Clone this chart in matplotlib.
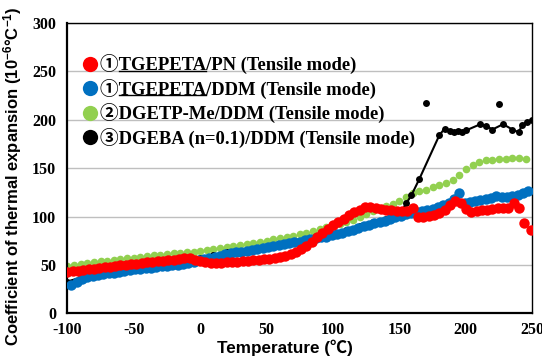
import numpy as np
import matplotlib
matplotlib.use("Agg")
import matplotlib.pyplot as plt
from matplotlib.lines import Line2D
from matplotlib.transforms import IdentityTransform

plt.rcParams['mathtext.fontset'] = 'custom'
plt.rcParams['mathtext.rm'] = 'Liberation Sans:bold'
plt.rcParams['mathtext.bf'] = 'Liberation Sans:bold'
plt.rcParams['mathtext.default'] = 'regular'
plt.rcParams['axes.unicode_minus'] = False

# (1) TGEPETA/PN
temp_pn = [-100, -96, -92, -88, -84, -80, -76, -72, -68, -64, -60, -56, -52, -48, -44, -40, -36, -32, -28, -24,
           -20, -16, -12, -8, -4, 0, 4, 8, 12, 16, 20, 24, 28, 32, 36, 40, 44, 48, 52, 56,
           60, 64, 68, 72, 76, 80, 84, 88, 92, 96, 100, 104, 108, 112, 116, 120, 124, 128, 132, 136,
           140, 144, 148, 152, 156, 160, 164, 168, 172, 176, 180, 184, 188, 192, 196, 200, 204, 208, 212, 216,
           220, 224, 228, 232, 236, 240, 244, 249]
cte_pn = [43, 43.6, 44.3, 45, 45.6, 46.3, 47, 47.6, 48.3, 49, 49.6, 50.3, 51, 51.6, 52.3, 53, 53.6, 54, 54.5, 55,
          55.5, 56, 56.8, 57, 55.5, 54, 53, 52.5, 52.3, 52.5, 53, 53.3, 53.6, 54, 54.5, 55, 55.5, 56, 56.6, 57.3,
          58, 59.5, 61.5, 64, 67, 70, 74, 78.5, 83, 87.5, 91, 94.5, 98, 101.5, 104.5, 107, 109.5, 109.5, 108.5, 108,
          107, 106.5, 106, 105.5, 106, 109, 100, 100, 100.5, 101.5, 103.5, 107, 112, 116, 114, 108, 105, 106, 107, 107,
          107.5, 109, 108.5, 109, 114, 109, 93, 86]

# (1) TGEPETA/DDM
temp_ddm = [-97, -93, -89, -85, -81, -77, -73, -69, -65, -61, -57, -53, -49, -45, -41, -37, -33, -29, -25, -21,
            -17, -13, -9, -5, -1, 3, 7, 11, 15, 19, 23, 27, 31, 35, 39, 43, 47, 51, 55, 59,
            63, 67, 71, 75, 79, 83, 87, 91, 95, 99, 103, 107, 111, 115, 119, 123, 127, 131, 135, 139,
            143, 147, 151, 155, 159, 163, 167, 171, 175, 179, 183, 187, 191, 195, 199, 203, 207, 211, 215, 219,
            223, 227, 231, 235, 239, 243, 247]
cte_ddm = [29, 33, 36, 37.5, 38.5, 39.5, 40.5, 41.3, 42, 43, 44, 45, 45.6, 46.2, 46.8, 47.4, 48, 48.6, 49.2, 49.8,
           50.4, 51, 52, 53.5, 55, 56, 57, 58, 59.5, 61, 62, 63, 64, 65, 66, 67, 67.5, 68.5, 69.5, 70.5,
           71.5, 72.5, 73.5, 74, 75.5, 76.5, 77.5, 78.5, 79.5, 81, 82, 83.5, 85, 86.5, 88, 90, 91.5, 93, 94.5, 96,
           98, 99.5, 101, 103, 104, 105, 106, 107, 108, 110, 112, 114.5, 118, 124, 114, 115, 116.5, 117, 118, 119.5,
           121, 120.5, 120.5, 121, 122.5, 124, 126]

# (2) DGETP-Me/DDM
temp_me = [-100, -95, -90, -85, -80, -75, -70, -65, -60, -55, -50, -45, -40, -35, -30, -25, -20, -15, -10, -5,
           0, 5, 10, 15, 20, 25, 30, 35, 40, 45, 50, 55, 60, 65, 70, 75, 80, 85, 90, 95,
           100, 105, 110, 115, 120, 125, 130, 135, 140, 145, 150, 155, 160, 165, 170, 175, 180, 185, 190, 195,
           200, 205, 210, 215, 220, 225, 230, 235, 240, 245]
cte_me = [49, 50, 51, 52, 53, 54, 54.5, 55, 56, 57, 57.5, 58, 59, 60, 60.5, 61, 62, 62.5, 63, 64,
          65, 66, 67, 68, 69, 70, 71, 72, 73, 74, 75, 76.5, 78, 79, 80.5, 82, 83.5, 85, 87, 89,
          90.5, 92, 94, 97, 100, 103, 106, 109, 111, 113, 116, 120, 124, 126, 128, 131, 133, 135, 138, 143,
          149, 153, 156, 158, 159, 159.5, 160, 161, 161, 160]

# (3) DGEBA (n=0.1)/DDM
temp_ba = [-100, -90, -80, -70, -60, -50, -40, -30, -20, -10, 0, 10, 20, 30, 40, 50, 60, 70, 80, 90,
           100, 110, 120, 130, 140, 150, 155, 159, 165, 180, 184, 188, 191, 194, 197, 200, 211, 215, 220,
           228, 235, 240, 242, 246, 250]
cte_ba = [33, 37, 40, 42, 45, 47, 49, 50.5, 52, 54, 57, 60, 63, 65, 67, 69, 71, 73.5, 76, 79,
          82, 86, 90, 94, 98, 102, 113.6, 122, 139, 184, 191, 188, 187, 188, 187, 189, 195.5, 194, 190,
          195.5, 190, 187, 194.5, 198, 200]
temp_ba_out = [170, 225]
cte_ba_out = [217.7, 216]

labels = ["\u2460TGEPETA/PN (Tensile mode)",
          "\u2460TGEPETA/DDM (Tensile mode)",
          "\u2461DGETP-Me/DDM (Tensile mode)",
          "\u2462DGEBA (n=0.1)/DDM (Tensile mode)"]
colors = ["#FF0000", "#0070C0", "#92D050", "#000000"]

serif = ['Liberation Serif', 'Noto Sans CJK JP']
sans = ['Liberation Sans', 'Noto Sans CJK JP']

fig = plt.figure(figsize=(5.42, 3.62), dpi=100)
ax = fig.add_axes([0.1242, 0.134, 0.8579, 0.8025])

ax.plot(temp_me, cte_me, 'o', color=colors[2], markersize=5.5, markeredgewidth=0, zorder=2)
ax.plot(temp_ba, cte_ba, '-o', color=colors[3], markersize=5, linewidth=1.5, markeredgewidth=0, zorder=3)
ax.plot(temp_ba_out, cte_ba_out, 'o', color=colors[3], markersize=5, markeredgewidth=0, zorder=3)
ax.plot(temp_ddm, cte_ddm, 'o', color=colors[1], markersize=7.5, markeredgewidth=0, zorder=4)
ax.plot(temp_pn, cte_pn, 'o', color=colors[0], markersize=7.5, markeredgewidth=0, zorder=5)

ax.set_xlim(-100, 250)
ax.set_ylim(0, 300)
ax.set_xticks(range(-100, 251, 50))
ax.set_yticks(range(0, 301, 50))
ax.yaxis.grid(True, color='#BFBFBF', linewidth=1)
ax.set_axisbelow(True)
ax.tick_params(length=0)
ax.tick_params(axis='y', pad=8)
ax.tick_params(axis='x', pad=6)
for lab in ax.get_xticklabels() + ax.get_yticklabels():
    lab.set_family(serif)
    lab.set_fontweight('bold')
    lab.set_fontsize(11.5)
for side in ['left', 'bottom']:
    ax.spines[side].set_linewidth(1.6)
for side in ['top', 'right']:
    ax.spines[side].set_linewidth(1.0)

ax.set_xlabel("Temperature (\u2103)", family=sans, fontweight='bold', fontsize=12.3)
ax.xaxis.set_label_coords(0.468, -0.09)
ax.set_ylabel("Coefficient of thermal expansion (10$^{-6}$\u00b0C$^{-1}$)", family=sans,
              fontweight='bold', fontsize=12)
ax.yaxis.set_label_coords(-0.093, 0.472)

handles = [Line2D([], [], linestyle='none', marker='o', color=c, markersize=11, markeredgewidth=0) for c in colors]
leg = ax.legend(handles, labels, loc='upper left', bbox_to_anchor=(0.028, 0.892), frameon=False,
                prop={'family': serif, 'weight': 'bold', 'size': 13.4}, handlelength=1.0,
                handletextpad=0.05, labelspacing=0.24, borderpad=0, borderaxespad=0)

# underline "TGEPETA" in the first two entries
fig.canvas.draw()
renderer = fig.canvas.get_renderer()
for t in leg.get_texts()[:2]:
    bb = t.get_window_extent(renderer)
    fp = t.get_fontproperties()
    tmp1 = fig.text(0, 0, "\u2460", fontproperties=fp)
    tmp2 = fig.text(0, 0, "\u2460TGEPETA", fontproperties=fp)
    w1 = tmp1.get_window_extent(renderer).width
    w2 = tmp2.get_window_extent(renderer).width
    tmp1.remove()
    tmp2.remove()
    y = bb.y0 + 0.19 * bb.height
    fig.add_artist(Line2D([bb.x0 + w1, bb.x0 + w2], [y, y], color='black', linewidth=1.0,
                          transform=IdentityTransform()))

fig.savefig("out.png", dpi=100)
